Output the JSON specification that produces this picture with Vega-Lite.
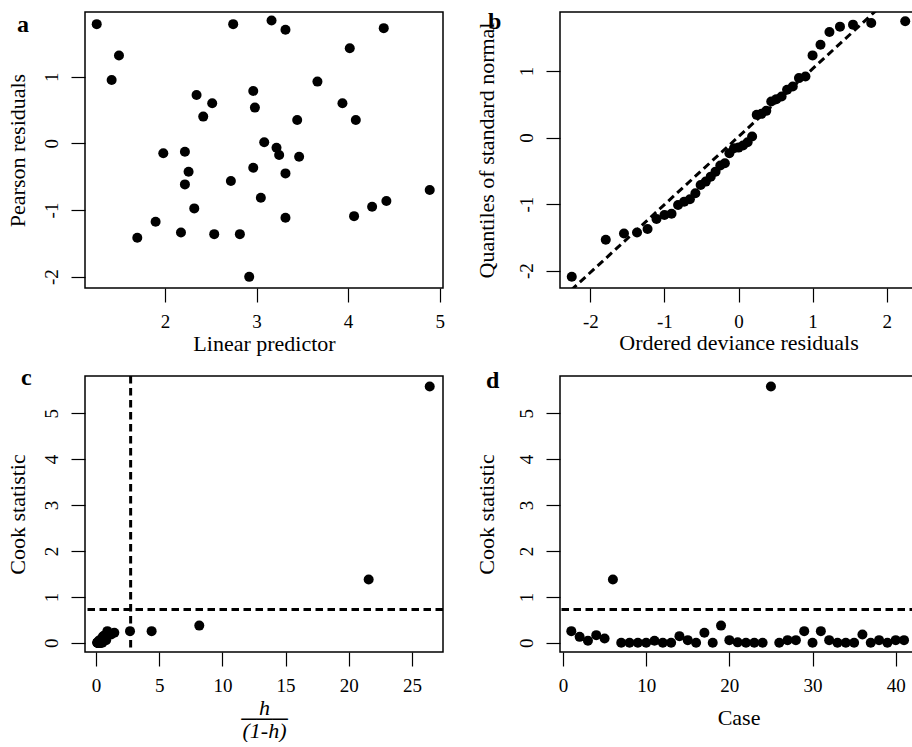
{
  "$schema": "https://vega.github.io/schema/vega-lite/v6.json",
  "background": "white",
  "padding": {"left": 5, "top": 9, "right": 0, "bottom": 0},
  "columns": 2,
  "spacing": {"row": 88, "column": 117},
  "bounds": "flush",
  "config": {
    "view": {"stroke": "black", "strokeWidth": 1.5},
    "font": "Liberation Serif",
    "axis": {
      "domain": false, "grid": false,
      "tickColor": "black", "tickSize": 14, "tickWidth": 1.2,
      "labelColor": "black", "labelFont": "Liberation Serif", "labelFontSize": 19,
      "titleColor": "black", "titleFont": "Liberation Serif", "titleFontSize": 22, "titleFontWeight": "normal",
      "labelFlush": false, "labelOverlap": false,
      "labelExpr": "'' + datum.value"
    },
    "axisX": {"labelAngle": 0, "labelPadding": 10, "labelBaseline": "top", "titlePadding": 2.5},
    "axisY": {"labelAngle": 270, "labelAlign": "center", "labelBaseline": "alphabetic", "labelPadding": 14, "titleAngle": 270, "titleBaseline": "alphabetic", "titlePadding": 17.5},
    "title": {"font": "Liberation Serif", "fontSize": 24, "fontWeight": "bold", "color": "black", "anchor": "start", "frame": "group", "offset": 0, "baseline": "alphabetic"},
    "circle": {"size": 100, "color": "black", "opacity": 1}
  },
  "datasets": {
    "resid": [
      {"lp": 1.255, "pearson": 1.788}, {"lp": 1.418, "pearson": 0.951}, {"lp": 1.498, "pearson": 1.317},
      {"lp": 1.698, "pearson": -1.417}, {"lp": 1.898, "pearson": -1.177}, {"lp": 1.982, "pearson": -0.150},
      {"lp": 2.175, "pearson": -1.337}, {"lp": 2.218, "pearson": -0.125}, {"lp": 2.218, "pearson": -0.616},
      {"lp": 2.258, "pearson": -0.426}, {"lp": 2.320, "pearson": -0.976}, {"lp": 2.345, "pearson": 0.726},
      {"lp": 2.418, "pearson": 0.401}, {"lp": 2.516, "pearson": 0.601}, {"lp": 2.538, "pearson": -1.362},
      {"lp": 2.720, "pearson": -0.566}, {"lp": 2.745, "pearson": 1.788}, {"lp": 2.818, "pearson": -1.362},
      {"lp": 2.920, "pearson": -2.003}, {"lp": 2.964, "pearson": 0.786}, {"lp": 2.964, "pearson": -0.366},
      {"lp": 2.982, "pearson": 0.536}, {"lp": 3.047, "pearson": -0.816}, {"lp": 3.084, "pearson": 0.015},
      {"lp": 3.164, "pearson": 1.843}, {"lp": 3.218, "pearson": -0.065}, {"lp": 3.247, "pearson": -0.175},
      {"lp": 3.316, "pearson": 1.703}, {"lp": 3.316, "pearson": -0.451}, {"lp": 3.316, "pearson": -1.117},
      {"lp": 3.444, "pearson": 0.351}, {"lp": 3.465, "pearson": -0.200}, {"lp": 3.665, "pearson": 0.926},
      {"lp": 3.938, "pearson": 0.601}, {"lp": 4.018, "pearson": 1.427}, {"lp": 4.065, "pearson": -1.092},
      {"lp": 4.084, "pearson": 0.351}, {"lp": 4.262, "pearson": -0.951}, {"lp": 4.389, "pearson": 1.728},
      {"lp": 4.418, "pearson": -0.866}, {"lp": 4.891, "pearson": -0.701}
    ],
    "qq": [
      {"q": -2.251, "dev": -2.092}, {"q": -1.792, "dev": -1.535}, {"q": -1.546, "dev": -1.44},
      {"q": -1.370, "dev": -1.425}, {"q": -1.228, "dev": -1.375}, {"q": -1.107, "dev": -1.224},
      {"q": -1.000, "dev": -1.164}, {"q": -0.904, "dev": -1.144}, {"q": -0.816, "dev": -1.014},
      {"q": -0.733, "dev": -0.963}, {"q": -0.656, "dev": -0.928}, {"q": -0.582, "dev": -0.838},
      {"q": -0.511, "dev": -0.712}, {"q": -0.442, "dev": -0.662}, {"q": -0.375, "dev": -0.587},
      {"q": -0.310, "dev": -0.512}, {"q": -0.246, "dev": -0.421}, {"q": -0.184, "dev": -0.386},
      {"q": -0.123, "dev": -0.236}, {"q": -0.061, "dev": -0.161}, {"q": 0.0, "dev": -0.151},
      {"q": 0.061, "dev": -0.12}, {"q": 0.123, "dev": -0.07}, {"q": 0.184, "dev": 0.015},
      {"q": 0.246, "dev": 0.341}, {"q": 0.310, "dev": 0.356}, {"q": 0.375, "dev": 0.401},
      {"q": 0.442, "dev": 0.542}, {"q": 0.511, "dev": 0.577}, {"q": 0.582, "dev": 0.617},
      {"q": 0.656, "dev": 0.718}, {"q": 0.733, "dev": 0.768}, {"q": 0.816, "dev": 0.893},
      {"q": 0.904, "dev": 0.918}, {"q": 1.000, "dev": 1.234}, {"q": 1.107, "dev": 1.395},
      {"q": 1.228, "dev": 1.586}, {"q": 1.370, "dev": 1.666}, {"q": 1.546, "dev": 1.696},
      {"q": 1.792, "dev": 1.721}, {"q": 2.251, "dev": 1.746}
    ],
    "qqline": [{"qa": -2.5, "da": -2.537, "qb": 2.5, "db": 2.563}],
    "cook": [
      {"case": 1, "lev": 4.40, "cook": 0.254}, {"case": 2, "lev": 0.55, "cook": 0.13},
      {"case": 3, "lev": 0.25, "cook": 0.044}, {"case": 4, "lev": 0.70, "cook": 0.167},
      {"case": 5, "lev": 0.45, "cook": 0.094}, {"case": 6, "lev": 21.57, "cook": 1.38},
      {"case": 7, "lev": 0.12, "cook": 0.0}, {"case": 8, "lev": 0.10, "cook": 0.0},
      {"case": 9, "lev": 0.15, "cook": 0.0}, {"case": 10, "lev": 0.20, "cook": 0.0},
      {"case": 11, "lev": 0.35, "cook": 0.044}, {"case": 12, "lev": 0.18, "cook": 0.0},
      {"case": 13, "lev": 0.22, "cook": 0.0}, {"case": 14, "lev": 0.60, "cook": 0.145},
      {"case": 15, "lev": 0.30, "cook": 0.058}, {"case": 16, "lev": 0.28, "cook": 0.0},
      {"case": 17, "lev": 1.45, "cook": 0.218}, {"case": 18, "lev": 0.16, "cook": 0.0},
      {"case": 19, "lev": 8.17, "cook": 0.375}, {"case": 20, "lev": 0.40, "cook": 0.058},
      {"case": 21, "lev": 0.12, "cook": 0.01}, {"case": 22, "lev": 0.30, "cook": 0.0},
      {"case": 23, "lev": 0.25, "cook": 0.0}, {"case": 24, "lev": 0.35, "cook": 0.0},
      {"case": 25, "lev": 26.40, "cook": 5.58}, {"case": 26, "lev": 0.14, "cook": 0.0},
      {"case": 27, "lev": 0.45, "cook": 0.058}, {"case": 28, "lev": 0.50, "cook": 0.058},
      {"case": 29, "lev": 2.69, "cook": 0.254}, {"case": 30, "lev": 0.40, "cook": 0.0},
      {"case": 31, "lev": 0.90, "cook": 0.254}, {"case": 32, "lev": 0.55, "cook": 0.058},
      {"case": 33, "lev": 0.20, "cook": 0.0}, {"case": 34, "lev": 0.30, "cook": 0.0},
      {"case": 35, "lev": 0.50, "cook": 0.0}, {"case": 36, "lev": 1.20, "cook": 0.18},
      {"case": 37, "lev": 0.15, "cook": 0.0}, {"case": 38, "lev": 0.60, "cook": 0.058},
      {"case": 39, "lev": 0.25, "cook": 0.0}, {"case": 40, "lev": 0.80, "cook": 0.058},
      {"case": 41, "lev": 0.65, "cook": 0.058}
    ],
    "cut": [{"cook_cut": 0.727, "lev_cut": 2.74}]
  },
  "concat": [
    {
      "title": {"text": "a", "dx": -68, "dy": 28.7},
      "width": 358, "height": 276,
      "data": {"name": "resid"},
      "mark": {"type": "circle"},
      "encoding": {
        "x": {"field": "lp", "type": "quantitative", "scale": {"domain": [1.127, 5.036], "nice": false, "zero": false}, "axis": {"values": [2, 3, 4, 5], "title": "Linear predictor"}},
        "y": {"field": "pearson", "type": "quantitative", "scale": {"domain": [-2.17, 1.97], "nice": false, "zero": false}, "axis": {"values": [-2, -1, 0, 1], "title": "Pearson residuals"}}
      }
    },
    {
      "title": {"text": "b", "dx": -72, "dy": 26.3},
      "width": 357, "height": 276,
      "layer": [
        {
          "data": {"name": "qq"},
          "mark": {"type": "circle"},
          "encoding": {
            "x": {"field": "q", "type": "quantitative", "scale": {"domain": [-2.41, 2.41], "nice": false, "zero": false}, "axis": {"values": [-2, -1, 0, 1, 2], "title": "Ordered deviance residuals", "titlePadding": 1}},
            "y": {"field": "dev", "type": "quantitative", "scale": {"domain": [-2.26, 1.886], "nice": false, "zero": false}, "axis": {"values": [-2, -1, 0, 1], "title": "Quantiles of standard normal", "titlePadding": 23.5}}
          }
        },
        {
          "data": {"name": "qqline"},
          "mark": {"type": "rule", "clip": true, "color": "black", "strokeWidth": 3, "strokeDash": [7.5, 4.5]},
          "encoding": {
            "x": {"field": "qa", "type": "quantitative"},
            "y": {"field": "da", "type": "quantitative"},
            "x2": {"field": "qb"},
            "y2": {"field": "db"}
          }
        }
      ]
    },
    {
      "title": {"text": "c", "dx": -64, "dy": 19.7},
      "width": 358, "height": 276,
      "layer": [
        {
          "data": {"name": "cook"},
          "mark": {"type": "circle"},
          "encoding": {
            "x": {"field": "lev", "type": "quantitative", "scale": {"domain": [-0.87, 27.45], "nice": false, "zero": false}, "axis": {"values": [0, 5, 10, 15, 20, 25], "title": ["h", "───", "(1-h)"], "titleFontStyle": "italic", "titleLineHeight": 11.35}},
            "y": {"field": "cook", "type": "quantitative", "scale": {"domain": [-0.2, 5.81], "nice": false, "zero": false}, "axis": {"values": [0, 1, 2, 3, 4, 5], "title": "Cook statistic"}}
          }
        },
        {
          "data": {"name": "cut"},
          "mark": {"type": "rule", "color": "black", "strokeWidth": 3, "strokeDash": [7.5, 4.5]},
          "encoding": {"y": {"field": "cook_cut", "type": "quantitative"}}
        },
        {
          "data": {"name": "cut"},
          "mark": {"type": "rule", "color": "black", "strokeWidth": 3, "strokeDash": [7.5, 4.5]},
          "encoding": {"x": {"field": "lev_cut", "type": "quantitative"}}
        }
      ]
    },
    {
      "title": {"text": "d", "dx": -74, "dy": 20.7},
      "width": 357, "height": 276,
      "layer": [
        {
          "data": {"name": "cook"},
          "mark": {"type": "circle"},
          "encoding": {
            "x": {"field": "case", "type": "quantitative", "scale": {"domain": [-0.36, 42.56], "nice": false, "zero": false}, "axis": {"values": [0, 10, 20, 30, 40], "title": "Case", "titlePadding": 12}},
            "y": {"field": "cook", "type": "quantitative", "scale": {"domain": [-0.2, 5.81], "nice": false, "zero": false}, "axis": {"values": [0, 1, 2, 3, 4, 5], "title": "Cook statistic", "titlePadding": 23.5}}
          }
        },
        {
          "data": {"name": "cut"},
          "mark": {"type": "rule", "color": "black", "strokeWidth": 3, "strokeDash": [7.5, 4.5]},
          "encoding": {"y": {"field": "cook_cut", "type": "quantitative"}}
        }
      ]
    }
  ]
}
